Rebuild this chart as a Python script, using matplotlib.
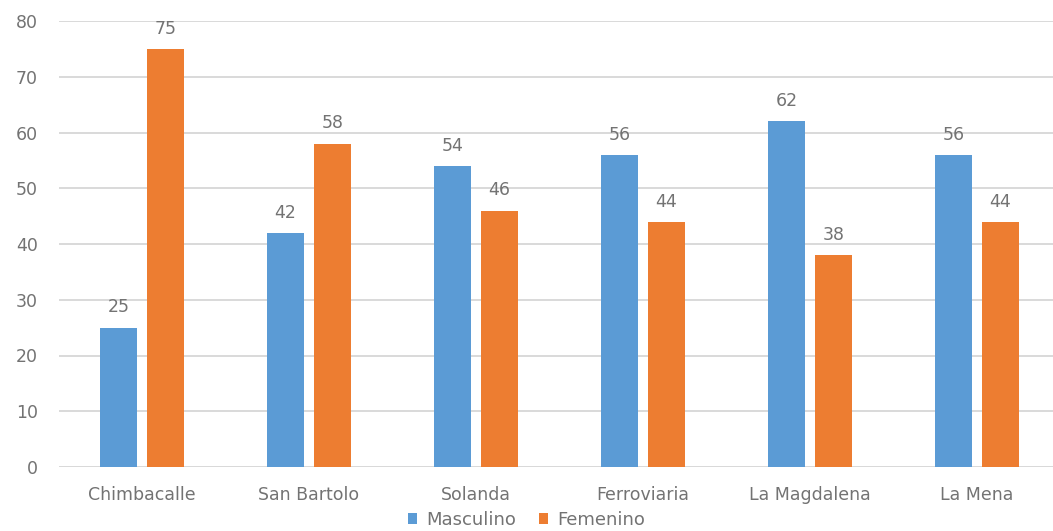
import numpy as np
import matplotlib.pyplot as plt

barrios = ["Chimbacalle", "San Bartolo", "Solanda", "Ferroviaria", "La Magdalena", "La Mena"]
masculino = [25, 42, 54, 56, 62, 56]
femenino = [75, 58, 46, 44, 38, 44]

azul = "#5B9BD5"
naranja = "#ED7D31"
gris = "#737373"

fig = plt.figure(figsize=(10.53, 5.31), dpi=100)
ax = fig.add_axes([58.5 / 1053, 64 / 531, 1002 / 1053, 446 / 531])

x = np.arange(len(barrios))
w = 0.22
off = 0.14
b1 = ax.bar(x - off, masculino, w, color=azul, label="Masculino", zorder=3)
b2 = ax.bar(x + off, femenino, w, color=naranja, label="Femenino", zorder=3)

for bars in (b1, b2):
    for r in bars:
        ax.text(r.get_x() + r.get_width() / 2, r.get_height() + 2.0, f"{r.get_height():.0f}",
                ha="center", va="bottom", fontsize=12.5, color=gris)

ax.set_xlim(-0.5, len(barrios) - 0.5)
ax.set_ylim(0, 80)
ax.set_yticks(range(0, 81, 10))
ax.set_xticks(x)
ax.set_xticklabels(barrios)
ax.yaxis.grid(True, color="#D9D9D9", linewidth=1.4, zorder=0)
ax.tick_params(axis="both", length=0, labelsize=12.5, labelcolor=gris)
ax.tick_params(axis="y", pad=15)
ax.tick_params(axis="x", pad=14)
for s in ax.spines.values():
    s.set_visible(False)
ax.axhline(0, color="#D9D9D9", linewidth=1.4, zorder=1)

fig.legend(handles=[b1, b2], loc="center", bbox_to_anchor=(0.5, 11 / 531), ncol=2,
           frameon=False, fontsize=13, labelcolor=gris, handlelength=0.5, handleheight=0.5,
           handletextpad=0.5, columnspacing=1.3, borderpad=0)

fig.savefig("out.png", dpi=100)
